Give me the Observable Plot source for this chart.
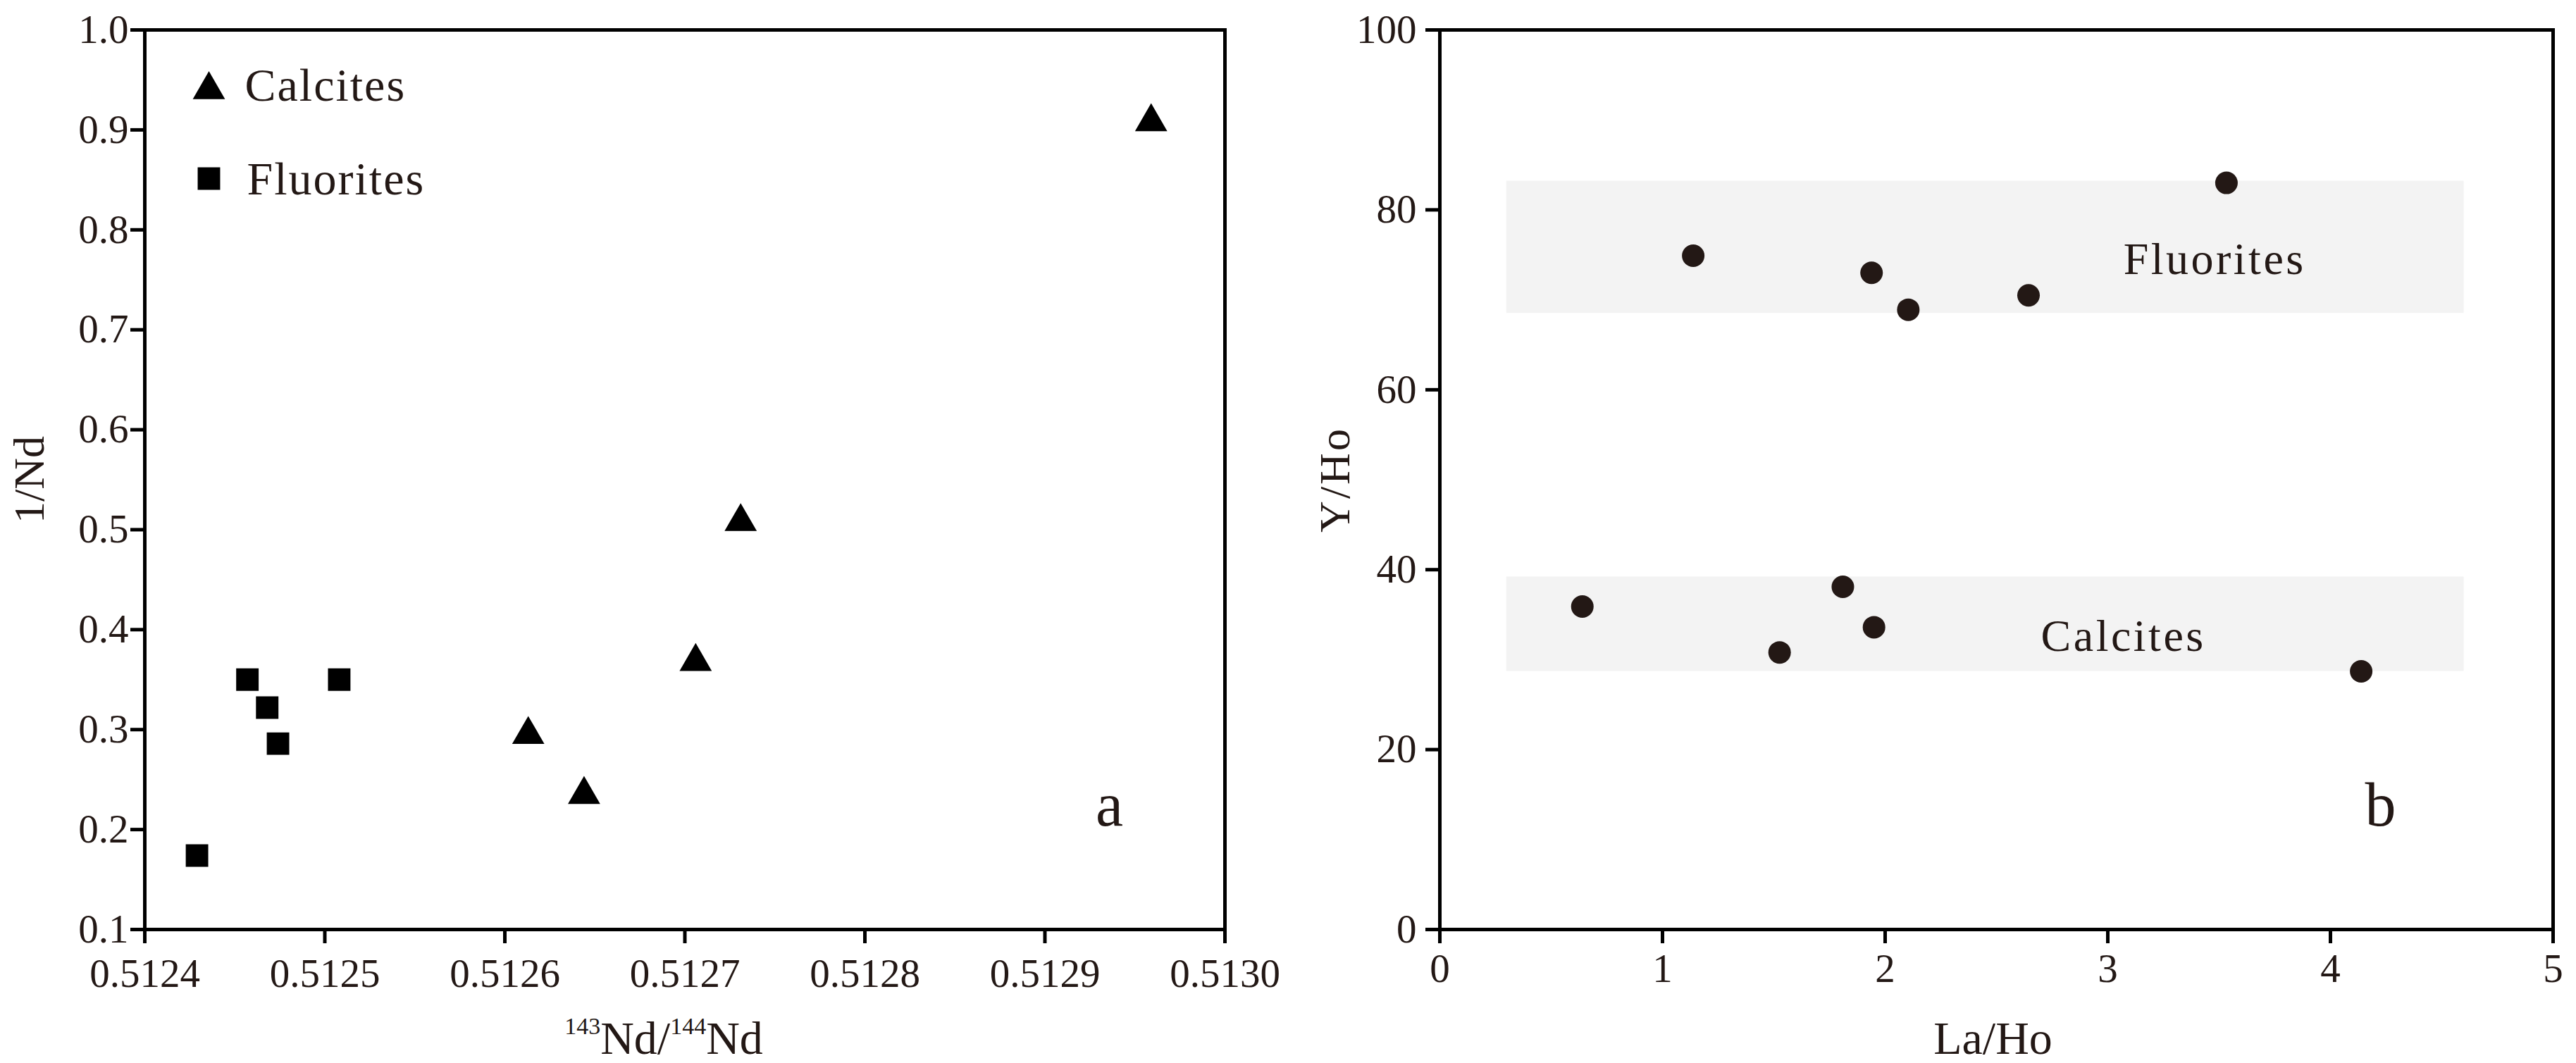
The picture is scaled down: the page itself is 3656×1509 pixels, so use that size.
<!DOCTYPE html>
<html>
<head>
<meta charset="utf-8">
<script src="https://cdn.jsdelivr.net/npm/d3@7"></script>
<script src="https://cdn.jsdelivr.net/npm/@observablehq/plot@0.6"></script>
<style>
  html, body { margin: 0; padding: 0; background: #fff; }
  #wrap { display: flex; flex-direction: row; width: 3656px; height: 1509px; }
</style>
</head>
<body>
<div id="wrap"></div>
<script>
// ---------- Panel a : 1/Nd vs 143Nd/144Nd ----------
const calciteNd    = [0.512613, 0.512644, 0.512706, 0.512731, 0.512959];
const calciteInvNd = [0.295, 0.235, 0.368, 0.508, 0.908];
const fluoriteNd    = [0.512429, 0.512457, 0.512468, 0.512474, 0.512508];
const fluoriteInvNd = [0.174, 0.350, 0.322, 0.286, 0.350];
const ndTicks    = [0.5124, 0.5125, 0.5126, 0.5127, 0.5128, 0.5129, 0.5130];
const invNdTicks = [0.1, 0.2, 0.3, 0.4, 0.5, 0.6, 0.7, 0.8, 0.9, 1.0];
const legendLabels  = ["Calcites", "Fluorites"];
const legendSymbols = ["triangle", "square"];
const xLabelA = "143Nd/144Nd";
const yLabelA = "1/Nd";

// ---------- Panel b : Y/Ho vs La/Ho ----------
const fluoriteLaHo = [1.138, 1.939, 2.104, 2.644, 3.533];
const fluoriteYHo  = [74.9, 73.0, 68.9, 70.5, 83.0];
const calciteLaHo  = [0.640, 1.526, 1.810, 1.950, 4.138];
const calciteYHo   = [35.9, 30.8, 38.1, 33.6, 28.7];
const bandNames  = ["Fluorites", "Calcites"];
const bandX1     = [0.3, 0.3];
const bandX2     = [4.6, 4.6];
const bandY1     = [68.5, 28.7];
const bandY2     = [83.2, 39.2];
const bandLabelX = [3.48, 3.07];
const bandLabelY = [72.9, 31.0];
const laHoTicks = [0, 1, 2, 3, 4, 5];
const yHoTicks  = [0, 20, 40, 60, 80, 100];
const xLabelB = "La/Ho";
const yLabelB = "Y/Ho";

const ink = "#231815";
const serif = "'Liberation Serif', 'Times New Roman', serif";

function panelA() {
  const calcites  = calciteNd.map((x, i) => ({x, y: calciteInvNd[i]}));
  const fluorites = fluoriteNd.map((x, i) => ({x, y: fluoriteInvNd[i]}));
  const legendMarks = legendLabels.flatMap((lab, i) => [
    Plot.dot([lab], {frameAnchor: "top-left", dx: 91, dy: i === 0 ? 85 : 211,
      symbol: legendSymbols[i], r: i === 0 ? 17 : 18, fill: "#000"}),
    Plot.text([lab], {text: d => d, frameAnchor: "top-left", dx: i === 0 ? 142 : 145, dy: i === 0 ? 100 : 233,
      textAnchor: "start", lineAnchor: "bottom", fontSize: 66, fill: ink})
  ]);
  return Plot.plot({
    width: 1828, height: 1509,
    marginLeft: 205, marginRight: 90, marginTop: 42, marginBottom: 190,
    style: {fontFamily: serif, fontSize: "57px", color: "#000", background: "#fff", overflow: "visible"},
    x: {domain: [0.5124, 0.5130]},
    y: {domain: [0.1, 1.0]},
    marks: [
      Plot.frame({stroke: "#000", strokeWidth: 5}),
      Plot.axisX(ndTicks, {anchor: "bottom", tickSize: 20, tickPadding: 21, strokeWidth: 5,
        fill: ink, fontSize: 57, tickFormat: d => d.toFixed(4), label: null}),
      Plot.axisY(invNdTicks, {anchor: "left", tickSize: 20, tickPadding: 3, strokeWidth: 5,
        fill: ink, fontSize: 57, tickFormat: d => d.toFixed(1), label: null}),
      Plot.dot(fluorites, {x: "x", y: "y", symbol: "square", r: 18, fill: "#000"}),
      Plot.dot(calcites, {x: "x", y: "y", symbol: "triangle", r: 17, fill: "#000"}),
      ...legendMarks,
      Plot.text([yLabelA], {text: d => d, frameAnchor: "left", rotate: -90, dx: -163,
        textAnchor: "middle", lineAnchor: "middle", fontSize: 62, fill: ink}),
      Plot.text([xLabelA], {text: d => d, frameAnchor: "bottom", dx: -30, dy: 176,
        textAnchor: "middle", lineAnchor: "bottom", fontSize: 66, fill: ink}),
      Plot.text(["a"], {text: d => d, frameAnchor: "bottom-right", dx: -164, dy: -148,
        textAnchor: "middle", lineAnchor: "bottom", fontSize: 88, fill: ink})
    ]
  });
}

function panelB() {
  const pts = fluoriteLaHo.map((x, i) => ({x, y: fluoriteYHo[i]}))
    .concat(calciteLaHo.map((x, i) => ({x, y: calciteYHo[i]})));
  const bands = bandNames.map((name, i) => ({name, x1: bandX1[i], x2: bandX2[i], y1: bandY1[i], y2: bandY2[i],
    lx: bandLabelX[i], ly: bandLabelY[i]}));
  return Plot.plot({
    width: 1828, height: 1509,
    marginLeft: 215, marginRight: 33, marginTop: 42, marginBottom: 190,
    style: {fontFamily: serif, fontSize: "57px", color: "#000", background: "#fff", overflow: "visible"},
    x: {domain: [0, 5]},
    y: {domain: [0, 100]},
    marks: [
      Plot.rect(bands, {x1: "x1", x2: "x2", y1: "y1", y2: "y2", fill: "#f3f3f3"}),
      Plot.text(bands, {x: "lx", y: "ly", text: "name", textAnchor: "middle", lineAnchor: "bottom",
        fontSize: 64, fill: ink}),
      Plot.frame({stroke: "#000", strokeWidth: 5}),
      Plot.axisX(laHoTicks, {anchor: "bottom", tickSize: 20, tickPadding: 14, strokeWidth: 5,
        fill: ink, fontSize: 57, tickFormat: d => String(d), label: null}),
      Plot.axisY(yHoTicks, {anchor: "left", tickSize: 20, tickPadding: 13, strokeWidth: 5,
        fill: ink, fontSize: 57, tickFormat: d => String(d), label: null}),
      Plot.dot(pts, {x: "x", y: "y", r: 16, fill: ink}),
      Plot.text([yLabelB], {text: d => d, frameAnchor: "left", rotate: -90, dx: -148,
        textAnchor: "middle", lineAnchor: "middle", fontSize: 62, fill: ink}),
      Plot.text([xLabelB], {text: d => d, frameAnchor: "bottom", dx: -5, dy: 176,
        textAnchor: "middle", lineAnchor: "bottom", fontSize: 66, fill: ink}),
      Plot.text(["b"], {text: d => d, frameAnchor: "bottom-right", dx: -245, dy: -148,
        textAnchor: "middle", lineAnchor: "bottom", fontSize: 88, fill: ink})
    ]
  });
}

const wrap = document.getElementById("wrap");
const a = panelA();
const b = panelB();
wrap.appendChild(a);
wrap.appendChild(b);

// superscript mass numbers in the x label of panel a; letter-spaced labels
a.querySelectorAll("text").forEach(t => {
  if (t.textContent === xLabelA) {
    const ns = "http://www.w3.org/2000/svg";
    while (t.firstChild) t.removeChild(t.firstChild);
    const parts = [["143", true], ["Nd/", false], ["144", true], ["Nd", false]];
    parts.forEach(([s, sup]) => {
      const sp = document.createElementNS(ns, "tspan");
      sp.textContent = s;
      if (sup) { sp.setAttribute("font-size", "34"); sp.setAttribute("dy", "-28"); }
      else { sp.setAttribute("dy", "28"); }
      t.appendChild(sp);
    });
  } else if (legendLabels.includes(t.textContent)) {
    t.style.letterSpacing = "2px";
  }
});
b.querySelectorAll("text").forEach(t => {
  if (bandNames.includes(t.textContent)) t.style.letterSpacing = "3.5px";
  if (t.textContent === yLabelB) t.style.letterSpacing = "3px";
});
</script>
</body>
</html>
